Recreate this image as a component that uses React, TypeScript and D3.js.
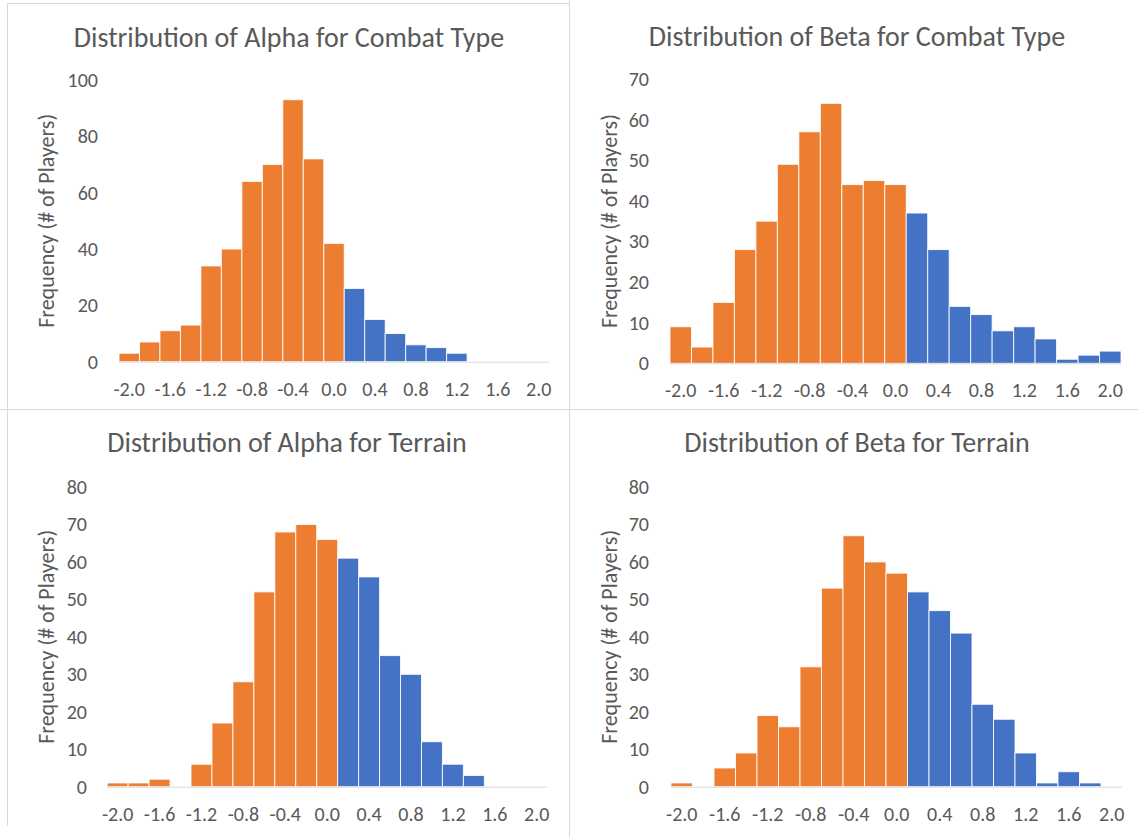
import React from "react";
import * as d3 from "d3";

// Bin centres (category axis) and the tick labels shown on it
const categories = [
  "-2.0", "-1.8", "-1.6", "-1.4", "-1.2", "-1.0", "-0.8", "-0.6", "-0.4", "-0.2", "0.0",
  "0.2", "0.4", "0.6", "0.8", "1.0", "1.2", "1.4", "1.6", "1.8", "2.0",
];
const tickLabels = ["-2.0", "-1.6", "-1.2", "-0.8", "-0.4", "0.0", "0.4", "0.8", "1.2", "1.6", "2.0"];

// Frequencies (# of players) per bin
const alphaCombat = [3, 7, 11, 13, 34, 40, 64, 70, 93, 72, 42, 26, 15, 10, 6, 5, 3, 0, 0, 0, 0];
const betaCombat = [9, 4, 15, 28, 35, 49, 57, 64, 44, 45, 44, 37, 28, 14, 12, 8, 9, 6, 1, 2, 3];
const alphaTerrain = [1, 1, 2, 0, 6, 17, 28, 52, 68, 70, 66, 61, 56, 35, 30, 12, 6, 3, 0, 0, 0];
const betaTerrain = [1, 0, 5, 9, 19, 16, 32, 53, 67, 60, 57, 52, 47, 41, 22, 18, 9, 1, 4, 1, 0];

// Y-axis ticks
const yTicksAlphaCombat = [0, 20, 40, 60, 80, 100];
const yTicksBetaCombat = [0, 10, 20, 30, 40, 50, 60, 70];
const yTicksTerrain = [0, 10, 20, 30, 40, 50, 60, 70, 80];

const titles = [
  "Distribution of Alpha for Combat Type",
  "Distribution of Beta for Combat Type",
  "Distribution of Alpha for Terrain",
  "Distribution of Beta for Terrain",
];
const yAxisTitle = "Frequency (# of Players)";

const ORANGE = "#ED7D31";
const BLUE = "#4472C4";
const TEXT = "#595959";
const LINE = "#D9D9D9";
const FONT = "Carlito, Calibri, Lato, sans-serif";

type Layout = {
  x0: number; x1: number; yBase: number; yTop: number;
  titleX: number; titleY: number; yLabelRight: number; yTitleX: number;
};

const layouts: Layout[] = [
  { x0: 119, x1: 549, yBase: 361.7, yTop: 80, titleX: 289, titleY: 47, yLabelRight: 98, yTitleX: 46 },
  { x0: 670, x1: 1121, yBase: 363.3, yTop: 79, titleX: 857, titleY: 46, yLabelRight: 649, yTitleX: 609 },
  { x0: 107.2, x1: 547.2, yBase: 786.7, yTop: 487, titleX: 287, titleY: 452, yLabelRight: 87, yTitleX: 46 },
  { x0: 671, x1: 1122.5, yBase: 786.7, yTop: 487, titleX: 857, titleY: 452, yLabelRight: 649, yTitleX: 609 },
];

function Panel({ layout, values, title, yTicks }: { layout: Layout; values: number[]; title: string; yTicks: number[] }) {
  const x = d3.scaleBand<string>().domain(categories).range([layout.x0, layout.x1]).padding(0);
  const yMax = d3.max(yTicks) as number;
  const y = d3.scaleLinear().domain([0, yMax]).range([layout.yBase, layout.yTop]);
  const bw = x.bandwidth();
  return (
    <g>
      <text x={layout.titleX} y={layout.titleY} textAnchor="middle" fontSize={28} fill={TEXT} fontFamily={FONT}>
        {title}
      </text>
      {yTicks.map((t) => (
        <text key={t} x={layout.yLabelRight} y={y(t)} textAnchor="end" dominantBaseline="central" fontSize={20} fill={TEXT} fontFamily={FONT}>
          {t}
        </text>
      ))}
      <text
        transform={`translate(${layout.yTitleX},${(layout.yBase + layout.yTop) / 2}) rotate(-90)`}
        textAnchor="middle"
        dominantBaseline="central"
        fontSize={22}
        fill={TEXT}
        fontFamily={FONT}
      >
        {yAxisTitle}
      </text>
      {values.map((v, i) =>
        v > 0 ? (
          <rect
            key={i}
            x={x(categories[i]) as number}
            y={y(v)}
            width={bw}
            height={y(0) - y(v)}
            fill={parseFloat(categories[i]) <= 0 ? ORANGE : BLUE}
            stroke="#ffffff"
            strokeOpacity={0.85}
            strokeWidth={1}
          />
        ) : null
      )}
      <line x1={layout.x0} x2={layout.x1} y1={y(0) + 0.5} y2={y(0) + 0.5} stroke={LINE} strokeWidth={1} />
      {tickLabels.map((t) => (
        <text key={t} x={(x(t) as number) + bw / 2} y={layout.yBase + 34} textAnchor="middle" fontSize={20} fill={TEXT} fontFamily={FONT}>
          {t}
        </text>
      ))}
    </g>
  );
}

export default function App() {
  const data = [alphaCombat, betaCombat, alphaTerrain, betaTerrain];
  const ticks = [yTicksAlphaCombat, yTicksBetaCombat, yTicksTerrain, yTicksTerrain];
  return (
    <svg width={1138} height={837} style={{ position: "absolute", left: 0, top: 0, background: "#fff" }}>
      <rect x={0} y={0} width={1138} height={837} fill="#fff" />
      {/* panel frames */}
      <line x1={7.5} x2={569.5} y1={3.5} y2={3.5} stroke={LINE} />
      <line x1={7.5} x2={7.5} y1={3.5} y2={826} stroke={LINE} />
      <line x1={569.5} x2={569.5} y1={0} y2={837} stroke={LINE} />
      <line x1={0} x2={1138} y1={409.5} y2={409.5} stroke={LINE} />
      {layouts.map((l, i) => (
        <Panel key={i} layout={l} values={data[i]} title={titles[i]} yTicks={ticks[i]} />
      ))}
    </svg>
  );
}
